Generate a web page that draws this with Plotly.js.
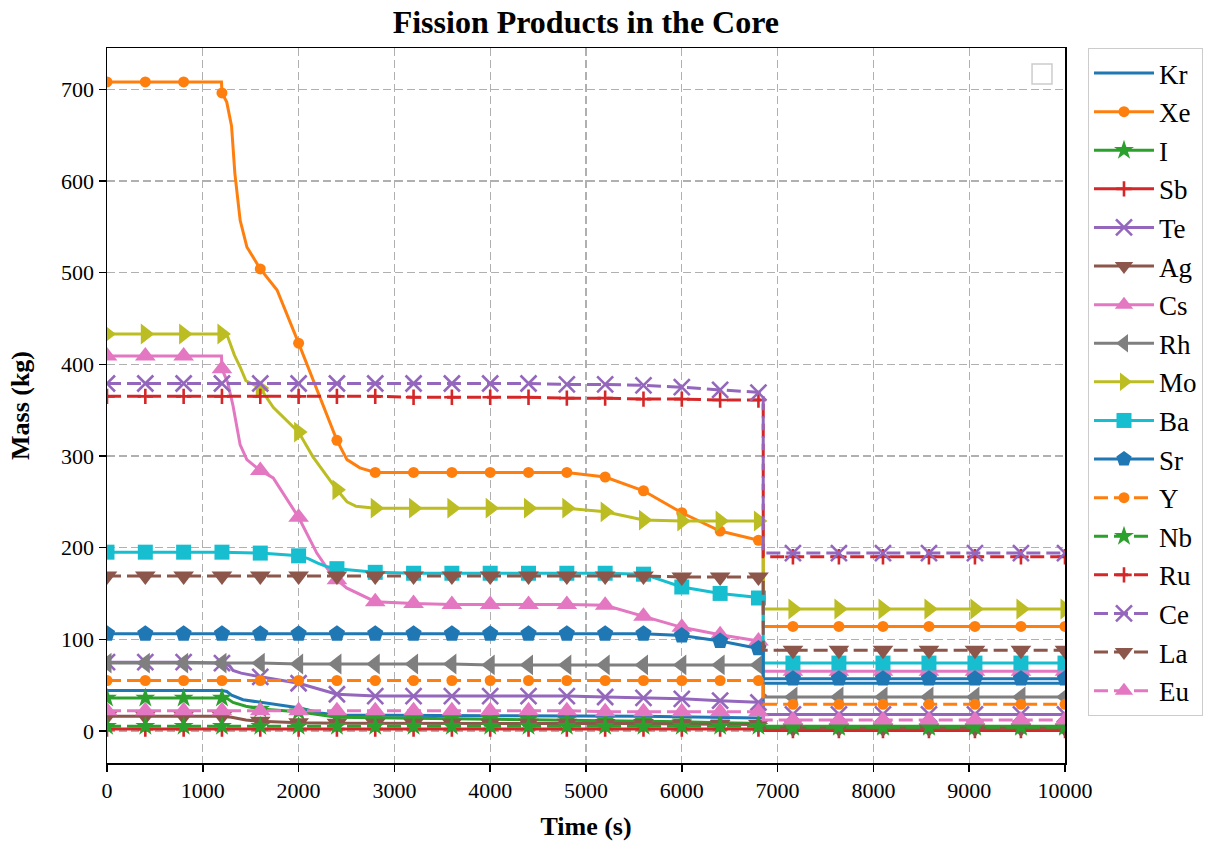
<!DOCTYPE html>
<html>
<head>
<meta charset="utf-8">
<script src="https://cdn.plot.ly/plotly-3.0.1.min.js"></script>
<style>html,body{margin:0;padding:0;background:#fff;}#chart{width:1218px;height:843px;}</style>
</head>
<body>
<div id="chart"></div>
<script>
// ---------- data (time in s, mass in kg) ----------
const markerTimes = [0,400,800,1200,1600,2000,2400,2800,3200,3600,4000,4400,4800,5200,5600,6000,6400,6800,7160,7640,8100,8580,9060,9540,10000];
const tGrid = [0,400,800,1200,1600,2000,2400,2800,3200,3600,4000,4400,4800,5200,5600,6000,6400,6800,6850,6850,7160,7640,8100,8580,9060,9540,10000];
const xTicks = [0,1000,2000,3000,4000,5000,6000,7000,8000,9000,10000];
const yTicks = [0,100,200,300,400,500,600,700];

const krT = [0,1200,1250,1300,1420,1670,2015,2225,2400,4000,5600,6800,6850,6850,10000];
const krV = [44,44,43,39,34,30,25,19.5,17.5,16.5,16,14,14,52,52];

const xeT = [0,400,800,1195,1200,1250,1300,1335,1390,1460,1600,1775,2000,2200,2400,2505,2640,2800,3200,3600,4000,4400,4800,5200,5600,6000,6400,6800,6850,6850,7160,7640,8100,8580,9060,9540,10000];
const xeV = [708,708,708,708,696,686,660,608,557,528,504,481,423,370,317,296,287,282,282,282,282,282,282,277,262,238,218,208,208,114,114,114,114,114,114,114,114];

const iT = [0,400,800,1200,1260,1315,1450,1600,2000,2250,2400,2800,3200,3600,4000,4400,4800,5200,5600,6000,6400,6800,6850,6850,7160,7640,8100,8580,9060,9540,10000];
const iV = [36,36,36,36,35,31,27,24,21,17,15,14.5,14,13.5,13,12.5,12,11.5,11,10,9,8,8,5,5,5,5,5,5,5,5];

const sbV = [2,2,2,2,2,2,2,2,2,2,2,2,2,2,2,2,2,2,2,0.5,0.5,0.5,0.5,0.5,0.5,0.5,0.5];

const teT = [0,400,800,1200,1280,1315,1400,1600,2000,2200,2400,2800,3200,3600,4000,4400,4800,5200,5600,6000,6400,6800,6850,6850,7160,7640,8100,8580,9060,9540,10000];
const teV = [75,75,75,74,71,66,63,59,52,46,40,38,38,38,38,38,38,37,36,35,33,31,31,18,18,18,18,18,18,18,18];

const agT = [0,400,800,1200,1300,1450,1600,2000,2400,2800,3200,3600,4000,4400,4800,5200,5600,6000,6400,6800,6850,6850,7160,7640,8100,8580,9060,9540,10000];
const agV = [16,16,16,16,15,12,10.5,9,8.5,8.5,8.5,8.5,8.5,8.5,8.5,8,8,7.5,7,7,7,3,3,3,3,3,3,3,3];

const csT = [0,400,800,1195,1200,1260,1315,1390,1460,1600,1735,2000,2190,2300,2400,2500,2800,3200,3600,4000,4400,4800,5200,5600,6000,6400,6800,6850,6850,7160,7640,8100,8580,9060,9540,10000];
const csV = [409,409,409,409,395,380,355,312,296,284,276,233,194,177,165,156,141,139,138,138,138,138,137,125,113,105,98,98,65,65,65,65,65,65,65,65];

const rhV = [74,74,74,74,74,73,73,73,73,73,72,72,72,72,72,72,72,72,72,37,37,37,37,37,37,37,37];

const moT = [0,400,800,1200,1260,1330,1390,1450,1600,1735,2000,2150,2400,2505,2600,2800,3200,3600,4000,4400,4800,5200,5600,6000,6400,6800,6850,6850,7160,7640,8100,8580,9060,9540,10000];
const moV = [433,433,433,433,430,410,397,382,374,353,326,299,263,250,245,243,243,243,243,243,243,239,230,229,229,229,229,133,133,133,133,133,133,133,133];

const baT = [0,400,800,1200,1600,2000,2100,2200,2300,2400,2800,3200,3600,4000,4400,4800,5200,5600,6000,6400,6800,6850,6850,7160,7640,8100,8580,9060,9540,10000];
const baV = [195,195,195,195,194,191,188,183,179,177,173,172,172,172,172,172,172,171,157,150,145,145,74,74,74,74,74,74,74,74];

const srV = [106,106,106,106,106,106,106,106,106,106,106,106,106,106,106,104,98,90,90,57,57,57,57,57,57,57,57];
const yV  = [55,55,55,55,55,55,55,55,55,55,55,55,55,55,55,55,55,55,55,29,29,29,29,29,29,29,29];
const nbV = [5,5,5,5,5,5,5,5,5,5,5,5,5,5,5,5,5,5,5,4,4,4,4,4,4,4,4];
const ruV = [365,365,365,365,365,365,365,365,364,364,364,364,363,363,362,362,361,361,361,190,190,190,190,190,190,190,190];
const ceV = [379,379,379,379,379,379,379,379,379,379,379,379,378,378,377,375,372,369,369,194,194,194,194,194,194,194,194];
const laV = [169,169,169,169,169,169,169,169,169,169,169,169,169,169,169,168,168,168,168,88,88,88,88,88,88,88,88];
const euV = [22,22,22,22,22,22,22,22,22,22,22,22,22,21,21,21,21,21,21,12,12,12,12,12,12,12,12];

// ---------- styles ----------
const C = {blue:'#1f77b4',orange:'#ff7f0e',green:'#2ca02c',red:'#d62728',purple:'#9467bd',brown:'#8c564b',pink:'#e377c2',gray:'#7f7f7f',olive:'#bcbd22',cyan:'#17becf'};
const DASH = '14px,6px';
const series = [
  {n:'Kr', t:krT,  v:krV, c:C.blue,   dash:'solid', sym:null},
  {n:'Xe', t:xeT,  v:xeV, c:C.orange, dash:'solid', sym:'circle', s:11},
  {n:'I',  t:iT,   v:iV,  c:C.green,  dash:'solid', sym:'star', s:15},
  {n:'Sb', t:tGrid,v:sbV, c:C.red,    dash:'solid', sym:'cross-thin-open', s:11},
  {n:'Te', t:teT,  v:teV, c:C.purple, dash:'solid', sym:'x-thin-open', s:16},
  {n:'Ag', t:agT,  v:agV, c:C.brown,  dash:'solid', sym:'triangle-down', s:18},
  {n:'Cs', t:csT,  v:csV, c:C.pink,   dash:'solid', sym:'triangle-up', s:18},
  {n:'Rh', t:tGrid,v:rhV, c:C.gray,   dash:'solid', sym:'triangle-left', s:18},
  {n:'Mo', t:moT,  v:moV, c:C.olive,  dash:'solid', sym:'triangle-right', s:18},
  {n:'Ba', t:baT,  v:baV, c:C.cyan,   dash:'solid', sym:'square', s:15},
  {n:'Sr', t:tGrid,v:srV, c:C.blue,   dash:'solid', sym:'pentagon', s:17},
  {n:'Y',  t:tGrid,v:yV,  c:C.orange, dash:DASH,    sym:'circle', s:11},
  {n:'Nb', t:tGrid,v:nbV, c:C.green,  dash:DASH,    sym:'star', s:15},
  {n:'Ru', t:tGrid,v:ruV, c:C.red,    dash:DASH,    sym:'cross-thin-open', s:11},
  {n:'Ce', t:tGrid,v:ceV, c:C.purple, dash:DASH,    sym:'x-thin-open', s:16},
  {n:'La', t:tGrid,v:laV, c:C.brown,  dash:DASH,    sym:'triangle-down', s:18},
  {n:'Eu', t:tGrid,v:euV, c:C.pink,   dash:DASH,    sym:'triangle-up', s:18}
];

function markerSpec(s){
  const thin = s.sym.indexOf('thin') >= 0;
  return {symbol:s.sym, size:s.s, color:s.c, line:{color:s.c, width: thin ? 2.6 : 0}};
}

const traces = [];
series.forEach(s => {
  traces.push({x:s.t, y:s.v, type:'scatter', mode:'lines', name:s.n, showlegend:false,
    line:{color:s.c, width:3, dash:s.dash}, hoverinfo:'skip'});
  if (s.sym) {
    const mx = [], my = [];
    s.t.forEach((t,i) => { if (markerTimes.includes(t)) { mx.push(t); my.push(s.v[i]); } });
    traces.push({x:mx, y:my, type:'scatter', mode:'markers', name:s.n, showlegend:false,
      marker:markerSpec(s), cliponaxis:true});
  }
});
// legend entries
series.forEach(s => {
  const tr = {x:[null], y:[null], type:'scatter', mode: s.sym ? 'lines+markers' : 'lines',
    name:s.n, legendgroup:s.n, showlegend:true,
    line:{color:s.c, width:3, dash:s.dash}};
  if (s.sym) tr.marker = markerSpec(s);
  traces.push(tr);
});

const FONT = 'Liberation Serif, Times New Roman, serif';
const layout = {
  width:1218, height:843,
  margin:{l:107, r:153, t:48, b:80},
  paper_bgcolor:'#ffffff', plot_bgcolor:'#ffffff',
  font:{family:FONT, size:22, color:'#000'},
  title:{text:'<b>Fission Products in the Core</b>', font:{family:FONT, size:32, color:'#000'},
    x:0.481, xanchor:'center', y:0.974, yanchor:'middle'},
  xaxis:{range:[0,10000], tickvals:xTicks, ticktext:xTicks.map(String),
    ticks:'outside', ticklen:7, tickwidth:1.5, tickcolor:'#000',
    showline:true, mirror:true, linecolor:'#000', linewidth:1.5,
    showgrid:true, gridcolor:'#b0b0b0', gridwidth:1.3, griddash:'8px,4px', zeroline:false,
    tickfont:{family:FONT, size:22, color:'#000'},
    title:{text:'<b>Time (s)</b>', font:{family:FONT, size:26, color:'#000'}, standoff:15}},
  yaxis:{range:[-35,745], tickvals:yTicks, ticktext:yTicks.map(String),
    ticks:'outside', ticklen:7, tickwidth:1.5, tickcolor:'#000',
    showline:true, mirror:true, linecolor:'#000', linewidth:1.5,
    showgrid:true, gridcolor:'#b0b0b0', gridwidth:1.3, griddash:'8px,4px', zeroline:false,
    tickfont:{family:FONT, size:22, color:'#000'},
    title:{text:'<b>Mass (kg)</b>', font:{family:FONT, size:26, color:'#000'}, standoff:24}},
  legend:{x:1.024, xanchor:'left', y:1, yanchor:'top', bgcolor:'#fff', bordercolor:'#cccccc', borderwidth:1,
    font:{family:FONT, size:27, color:'#000'}, tracegroupgap:0.5, itemwidth:60, traceorder:'grouped'},
  shapes:[{type:'rect', xref:'paper', yref:'paper', x0:0.9656, x1:0.9864, y0:0.9497, y1:0.9776,
    line:{color:'#cccccc', width:1.5}, fillcolor:'#ffffff', layer:'above'}]
};

Plotly.newPlot('chart', traces, layout, {displayModeBar:false, staticPlot:true});
</script>
</body>
</html>
